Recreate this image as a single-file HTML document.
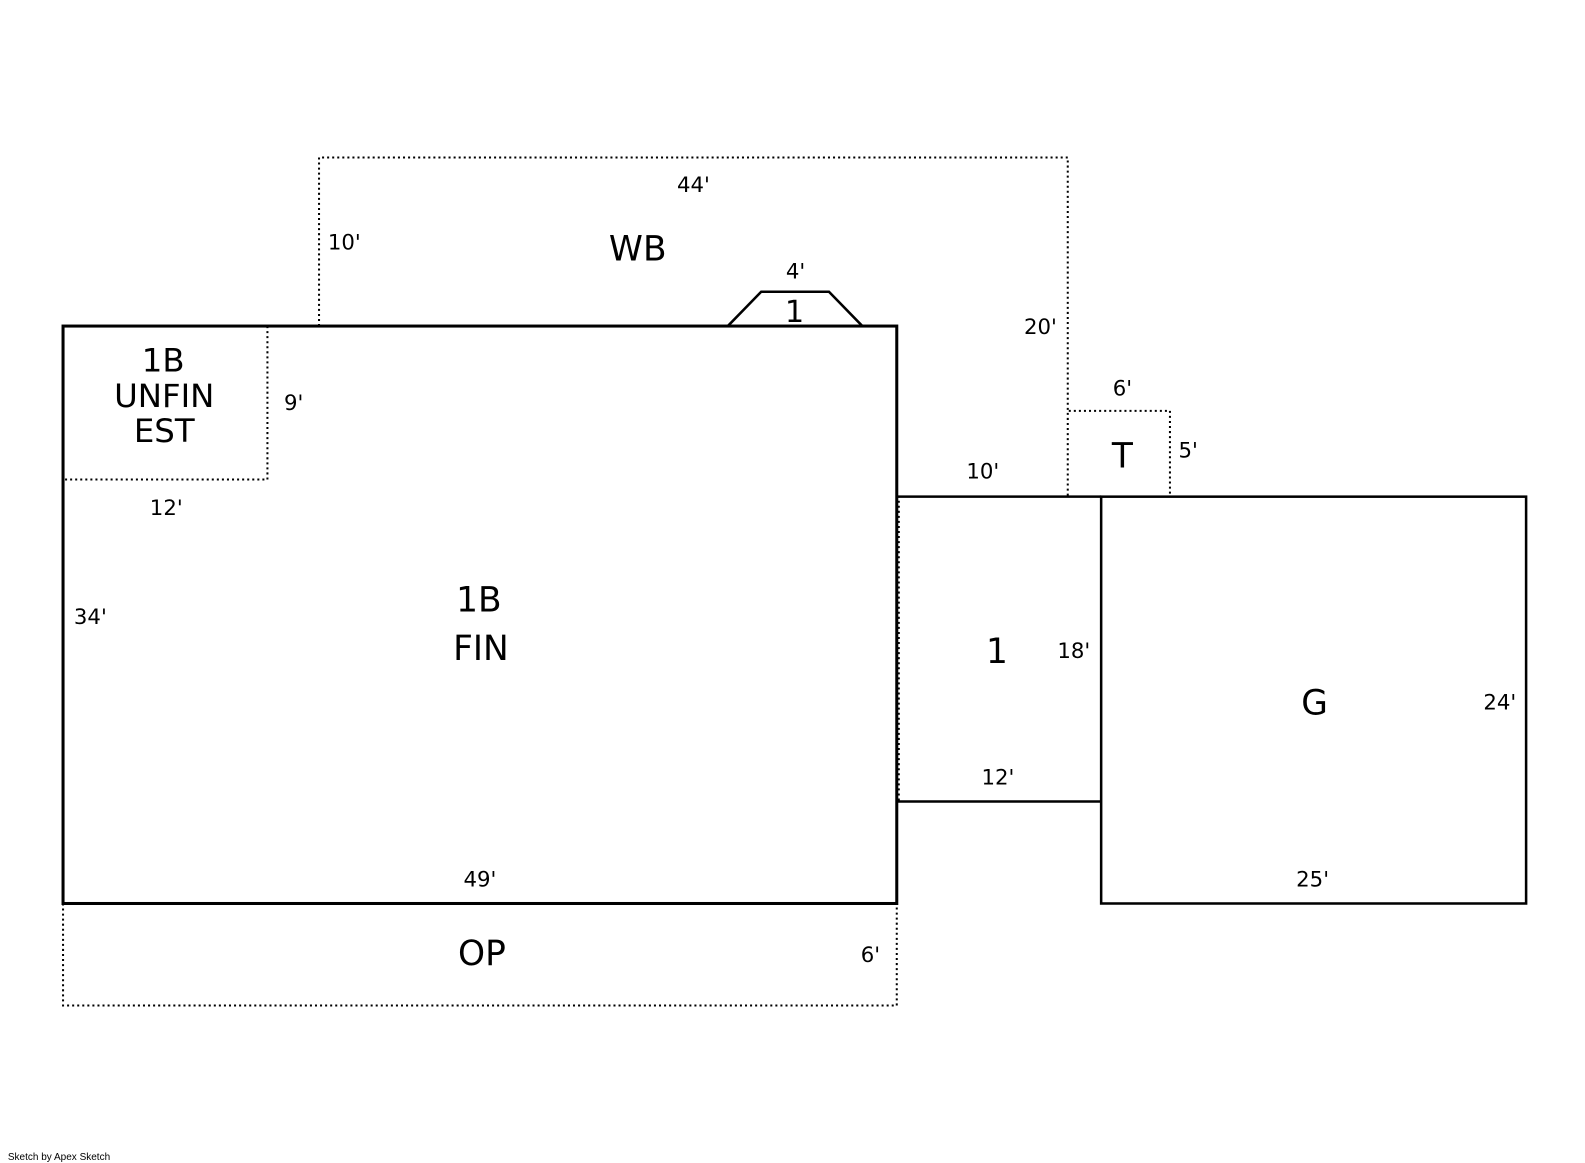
<!DOCTYPE html>
<html><head><meta charset="utf-8"><style>
html,body{margin:0;padding:0;background:#fff;overflow:hidden;}
svg{display:block;}
text{font-family:"DejaVu Sans","Liberation Sans",sans-serif;fill:#000;text-anchor:middle;}
.d{font-size:21px;}
.b{font-size:34px;}
</style></head><body>
<svg width="1585" height="1163" viewBox="0 0 1585 1163" xmlns="http://www.w3.org/2000/svg">
<g transform="matrix(1.0118 0 0 1.0095 -0.7 1)">
<g fill="none" stroke="#000">
<g stroke-width="2" stroke-dasharray="2,3">
<polyline points="316,322 316,155 1056,155 1056,490"/>
<polyline points="265,322 265,474 63,474"/>
<polyline points="1057,406 1157,406 1157,490"/>
<polyline points="63,894 63,995 887,995 887,894"/>
<line x1="889" y1="490" x2="889" y2="793"/>
</g>
<rect x="63" y="322" width="824" height="572" stroke-width="3"/>
<polyline points="720,322 753,288 820,288 853,322" stroke-width="2.5"/>
<line x1="887" y1="491" x2="1089" y2="491" stroke-width="2.5"/>
<line x1="887" y1="793" x2="1089" y2="793" stroke-width="2.5"/>
<rect x="1089" y="491" width="420" height="403" stroke-width="2.5"/>
</g>
<text class="d" x="686" y="189">44'</text>
<text class="d" x="341" y="246">10'</text>
<text class="b" x="631" y="257">WB</text>
<text class="d" x="787" y="275">4'</text>
<text class="b" x="786" y="318" style="font-size:30px">1</text>
<text class="d" x="1029" y="330">20'</text>
<text class="b" x="162" y="367" style="font-size:32px">1B</text>
<text class="b" x="163" y="402" style="font-size:32px">UNFIN</text>
<text class="b" x="163" y="437" style="font-size:32px">EST</text>
<text class="d" x="291" y="405">9'</text>
<text class="d" x="1110" y="391">6'</text>
<text class="b" x="1110" y="462">T</text>
<text class="d" x="1175" y="452">5'</text>
<text class="d" x="972" y="473">10'</text>
<text class="d" x="165" y="509">12'</text>
<text class="b" x="474" y="605">1B</text>
<text class="b" x="476" y="653">FIN</text>
<text class="d" x="90" y="617">34'</text>
<text class="b" x="986" y="656">1</text>
<text class="d" x="1062" y="651">18'</text>
<text class="b" x="1300" y="707">G</text>
<text class="d" x="1483" y="702">24'</text>
<text class="d" x="987" y="776">12'</text>
<text class="d" x="475" y="877">49'</text>
<text class="d" x="1298" y="877">25'</text>
<text class="b" x="477" y="955">OP</text>
<text class="d" x="861" y="952">6'</text>
</g>
<text x="59" y="1160" style="font-size:10px;font-family:'Liberation Sans',sans-serif">Sketch by Apex Sketch</text>
</svg>
</body></html>
